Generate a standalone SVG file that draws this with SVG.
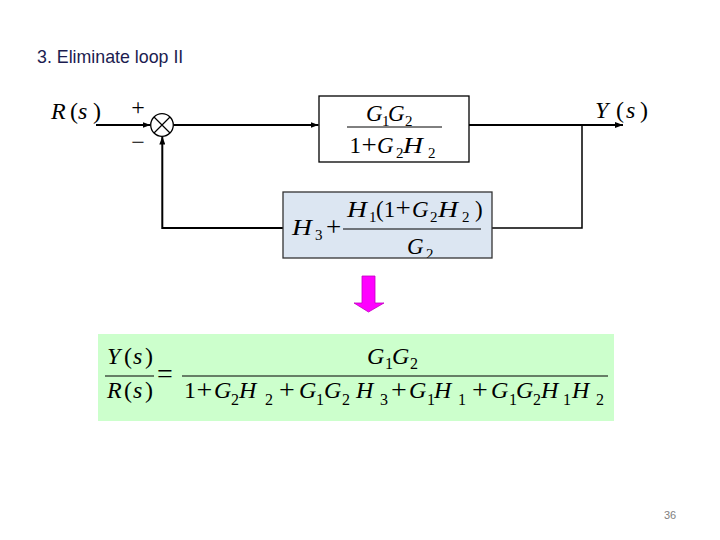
<svg xmlns="http://www.w3.org/2000/svg" width="720" height="540" viewBox="0 0 720 540">
<style>
.m{font-family:"Liberation Serif","Times New Roman",serif;fill:#000}
.i{font-style:italic}
.b{font-size:23px}
.bp{font-size:27px}
.bs{font-size:15px}
.e{font-size:24px}
.ep{font-size:28px}
.es{font-size:16px}
.l{font-size:24px}
.ln{stroke:#000;fill:none}
</style>
<defs>
<marker id="ah" markerWidth="8" markerHeight="6" refX="8" refY="3" orient="auto" markerUnits="userSpaceOnUse">
<path d="M0,0 L8,3 L0,6 z" fill="#000"/>
</marker>
<clipPath id="c2"><rect x="283" y="192" width="209" height="66"/></clipPath>
</defs>
<rect width="720" height="540" fill="#fff"/>
<text id="title" x="37" y="63" font-family="Liberation Sans, Arial, sans-serif" font-size="17.8" fill="#1c1c50">3. Eliminate loop II</text>

<g id="connectors">
<path class="ln" stroke-width="2" d="M96,125 H150.5" marker-end="url(#ah)"/>
<path class="ln" stroke-width="2" d="M173.3,125 H318.5" marker-end="url(#ah)"/>
<path class="ln" stroke-width="2" d="M469,125 H623" marker-end="url(#ah)"/>
<path class="ln" stroke-width="1.5" d="M582,125 V228 H492"/>
<path class="ln" stroke-width="2" d="M283,228 H162.3 V136.5" marker-end="url(#ah)"/>
</g>

<g id="node-sum">
<circle cx="162" cy="125" r="11.3" fill="#fff" stroke="#000" stroke-width="1.3"/>
<path d="M154,117 L170,133 M170,117 L154,133" stroke="#000" stroke-width="1.2"/>
<text class="m" x="138" y="115" font-size="24" text-anchor="middle">+</text>
<text class="m" x="138" y="149.5" font-size="24" text-anchor="middle">−</text>
</g>

<g id="label-R">
<text class="m l" y="119"><tspan class="i" x="51">R</tspan><tspan x="70">(</tspan><tspan class="i" x="78">s</tspan><tspan x="93">)</tspan></text>
</g>
<g id="label-Y">
<text class="m l" y="118"><tspan class="i" x="595">Y</tspan><tspan x="616">(</tspan><tspan class="i" x="626">s</tspan><tspan x="640">)</tspan></text>
</g>

<g id="node-block1">
<rect x="319" y="96" width="150" height="66" fill="#fff" stroke="#000" stroke-width="1.3"/>
<text class="m b i" x="366" y="121">G</text>
<text class="m bs" x="382" y="125.5">1</text>
<text class="m b i" x="388" y="121">G</text>
<text class="m bs" x="405" y="125.5">2</text>
<line x1="347" y1="127" x2="442" y2="127" stroke="#000" stroke-width="1"/>
<text class="m b" x="349.5" y="153">1</text>
<text class="m bp" x="361.5" y="153.5">+</text>
<text class="m b i" x="377" y="153">G</text>
<text class="m bs" x="396" y="158">2</text>
<text class="m b i" transform="translate(403,153) scale(1.2,1)">H</text>
<text class="m bs" x="428" y="158">2</text>
</g>

<g id="node-block2">
<rect x="283" y="192" width="209" height="66" fill="#dce6f2" stroke="#333" stroke-width="1.3"/>
<g clip-path="url(#c2)">
<text class="m b i" transform="translate(292,235) scale(1.2,1)">H</text>
<text class="m bs" x="315" y="240">3</text>
<text class="m bp" x="326" y="235.5">+</text>
<text class="m b i" transform="translate(347,216.5) scale(1.2,1)">H</text>
<text class="m bs" x="369" y="221.5">1</text>
<text class="m b" x="376" y="216.5">(1</text>
<text class="m bp" x="395.5" y="217">+</text>
<text class="m b i" x="412" y="216.5">G</text>
<text class="m bs" x="430" y="221.5">2</text>
<text class="m b i" transform="translate(438,216.5) scale(1.2,1)">H</text>
<text class="m bs" x="462" y="221.5">2</text>
<text class="m b" x="475" y="216.5">)</text>
<line x1="343" y1="229" x2="481" y2="229" stroke="#000" stroke-width="1"/>
<text class="m b i" x="407" y="253.5">G</text>
<text class="m bs" x="426" y="259">2</text>
</g>
</g>

<g id="arrow">
<polygon points="362,276 375,276 375,303 384,303 368.5,312 354,303 362,303" fill="#ff00ff" stroke="#c000c0" stroke-width="0.8"/>
</g>

<g id="equation">
<rect x="98" y="334" width="516" height="87" fill="#ccffcc"/>
<text class="m e" y="364"><tspan class="i" x="107">Y</tspan><tspan x="124">(</tspan><tspan class="i" x="133">s</tspan><tspan x="145">)</tspan></text>
<line x1="105" y1="376" x2="154" y2="376" stroke="#000" stroke-width="1.2"/>
<text class="m e" y="398"><tspan class="i" x="107">R</tspan><tspan x="124">(</tspan><tspan class="i" x="133">s</tspan><tspan x="145">)</tspan></text>
<text class="m ep" x="157" y="383">=</text>
<line x1="182" y1="376" x2="608" y2="376" stroke="#000" stroke-width="1.2"/>
<text class="m e i" x="367" y="364">G</text>
<text class="m es" x="385" y="369">1</text>
<text class="m e i" x="392" y="364">G</text>
<text class="m es" x="410" y="369">2</text>
<text class="m e" x="184" y="398">1</text>
<text class="m ep" x="196.5" y="398.5">+</text>
<text class="m e i" x="214" y="398">G</text>
<text class="m es" x="231" y="404.5">2</text>
<text class="m e i" x="239" y="398">H</text>
<text class="m es" x="265" y="404.5">2</text>
<text class="m ep" x="279" y="398.5">+</text>
<text class="m e i" x="299" y="398">G</text>
<text class="m es" x="316" y="404.5">1</text>
<text class="m e i" x="324" y="398">G</text>
<text class="m es" x="342" y="404.5">2</text>
<text class="m e i" x="356" y="398">H</text>
<text class="m es" x="380" y="404.5">3</text>
<text class="m ep" x="391" y="398.5">+</text>
<text class="m e i" x="409" y="398">G</text>
<text class="m es" x="427" y="404.5">1</text>
<text class="m e i" x="434" y="398">H</text>
<text class="m es" x="458" y="404.5">1</text>
<text class="m ep" x="472" y="398.5">+</text>
<text class="m e i" x="491" y="398">G</text>
<text class="m es" x="509" y="404.5">1</text>
<text class="m e i" x="516" y="398">G</text>
<text class="m es" x="533" y="404.5">2</text>
<text class="m e i" x="541" y="398">H</text>
<text class="m es" x="563" y="404.5">1</text>
<text class="m e i" x="572" y="398">H</text>
<text class="m es" x="596" y="404.5">2</text>
</g>

<text id="page" x="664" y="519" font-family="Liberation Sans, Arial, sans-serif" font-size="11" fill="#808080">36</text>
</svg>
